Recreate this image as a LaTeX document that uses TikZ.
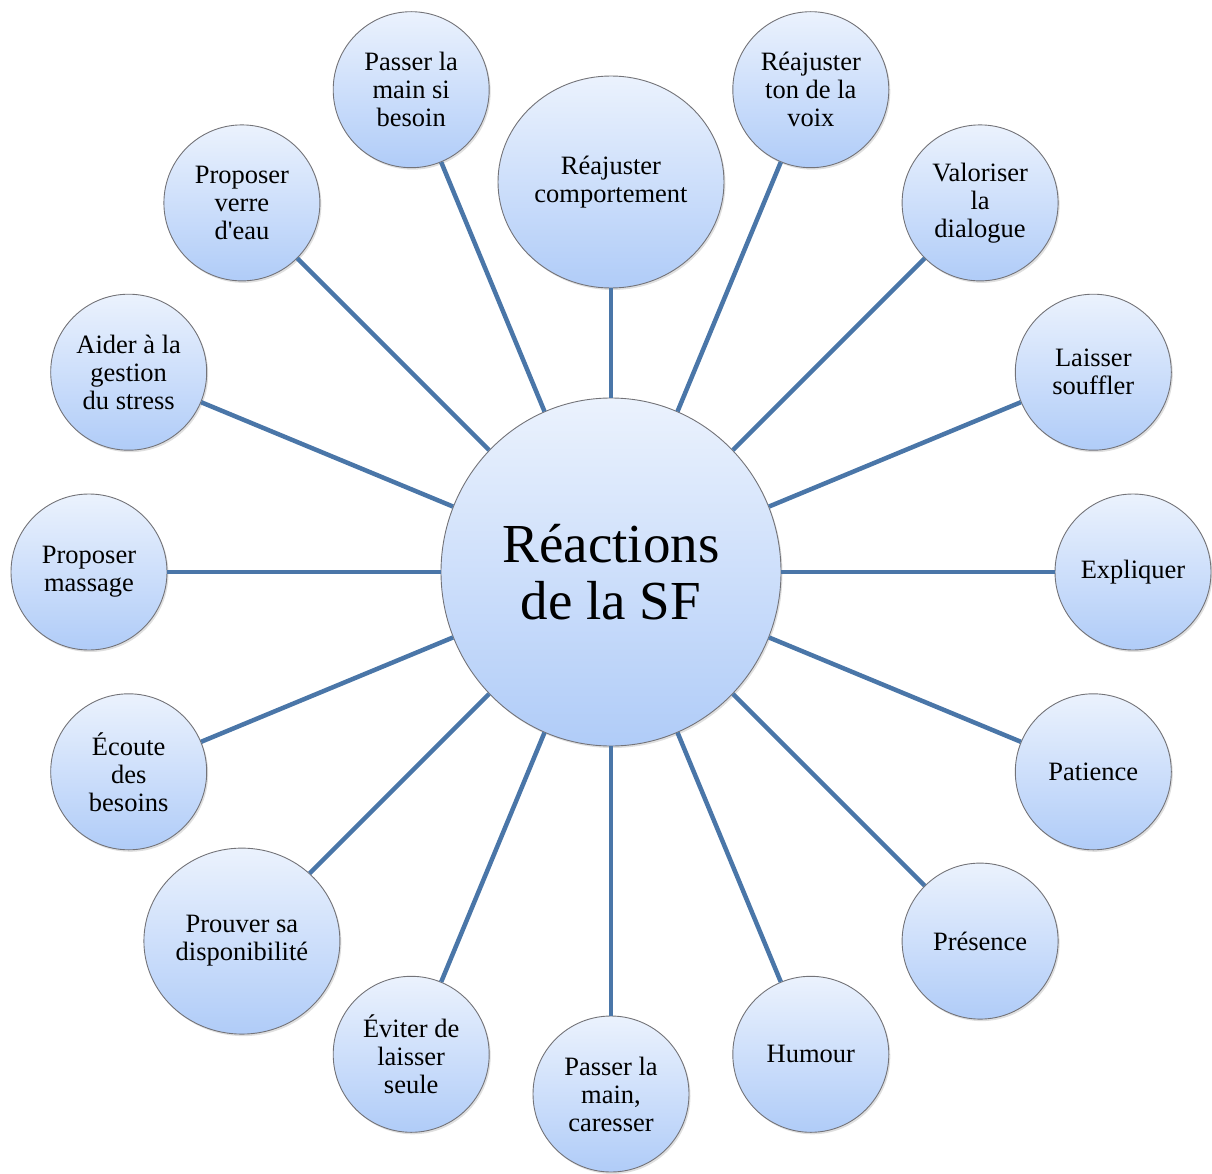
\documentclass[tikz,border=0pt]{standalone}
\usepackage{fontspec}
\setmainfont{Liberation Serif}
\usetikzlibrary{shadows,shapes.geometric}
\definecolor{linkblue}{RGB}{74,118,168}
\definecolor{topfill}{RGB}{235,242,253}
\definecolor{botfill}{RGB}{176,204,248}
\definecolor{rim}{RGB}{115,115,120}
\tikzset{
  bubble/.style={ellipse, draw=rim, line width=0.9pt, inner sep=0pt, align=center,
    top color=topfill, bottom color=botfill,
    drop shadow={opacity=0.25, shadow xshift=1.5pt, shadow yshift=-2pt},
    font=\fontsize{26.5}{28}\selectfont},
  sat/.style={bubble, minimum width=156pt, minimum height=156pt},
  link/.style={draw=linkblue, line width=4.5pt}
}
\begin{document}
\begin{tikzpicture}[x=1pt,y=-1pt]
\useasboundingbox (0,0) rectangle (1212,1174);
\node[bubble, minimum width=340pt, minimum height=348pt, font=\fontsize{55}{57}\selectfont] (c) at (611,572) {Réactions\\de la SF};
\node[bubble, minimum width=226pt, minimum height=212pt] (s1) at (611,182) {Réajuster\\comportement};
\node[sat] (s2) at (810.8,89.7) {Réajuster\\ton de la\\voix};
\node[sat] (s3) at (980.1,202.9) {Valoriser\\la\\dialogue};
\node[sat] (s4) at (1093.3,372.2) {Laisser\\souffler};
\node[sat] (s5) at (1133,572) {Expliquer};
\node[sat] (s6) at (1093.3,771.8) {Patience};
\node[sat] (s7) at (980.1,941.1) {Présence};
\node[sat] (s8) at (810.8,1054.3) {Humour};
\node[sat] (s9) at (611,1094) {Passer la\\main,\\caresser};
\node[sat] (s10) at (411.2,1054.3) {Éviter de\\laisser\\seule};
\node[bubble, minimum width=196pt, minimum height=186pt] (s11) at (241.9,941.1) {Prouver sa\\disponibilité};
\node[sat] (s12) at (128.7,771.8) {Écoute\\des\\besoins};
\node[sat] (s13) at (89,572) {Proposer\\massage};
\node[sat] (s14) at (128.7,372.2) {Aider à la\\gestion\\du stress};
\node[sat] (s15) at (241.9,202.9) {Proposer\\verre\\d\textquotesingle eau};
\node[sat] (s16) at (411.2,89.7) {Passer la\\main si\\besoin};
\foreach \i in {1,...,16} {\draw[link] (c) -- (s\i);}
\end{tikzpicture}
\end{document}
